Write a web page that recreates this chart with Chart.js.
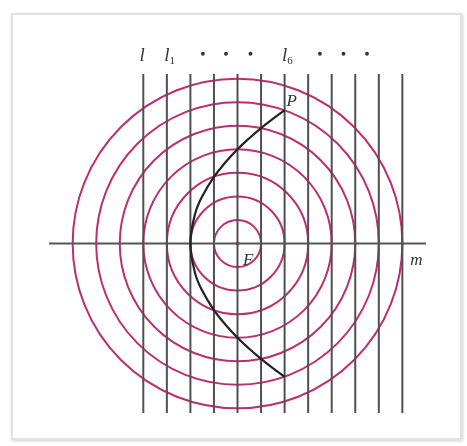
<!DOCTYPE html>
<html>
<head>
<meta charset="utf-8">
<script src="https://cdn.jsdelivr.net/npm/chart.js@4.4.1/dist/chart.umd.min.js"></script>
<style>
  body { margin: 0; background: #fff; }
  #wrap { position: relative; width: 467px; height: 446px; }
  #box {
    position: absolute; left: 11px; top: 13px; width: 447px; height: 423px;
    border: 2px solid #e2e2e2; box-shadow: 1px 1px 3px #cfcfcf;
  }
  canvas { position: absolute; left: 0; top: 0; }
</style>
</head>
<body>
<div id="wrap">
  <div id="box"></div>
  <canvas id="myChart" width="467" height="446"></canvas>
</div>
<script>
// everything in units of one line spacing, focus F at (0, 0)
const lineX = [-4, -3, -2, -1, 0, 1, 2, 3, 4, 5, 6, 7];
const lineTop = 7.2;
const lineBottom = -7.2;
const axisX = [-8, 8];
const circleRadii = [1, 2, 3, 4, 5, 6, 7];

const curveX = [2, 1.5, 1, 0.5, 0, -0.5, -1, -1.5, -1.8, -2, -1.8, -1.5, -1, -0.5, 0, 0.5, 1, 1.5, 2];
const curveY = [5.66, 5.29, 4.9, 4.47, 4.0, 3.46, 2.83, 2.0, 1.26, 0, -1.26, -2.0, -2.83, -3.46, -4.0, -4.47, -4.9, -5.29, -5.66];

// labels along the top
const topLabels = ["l", "l", "·", "·", "·", "l", "·", "·", "·"];
const topSubs = ["", "1", "", "", "", "6", "", "", ""];
const topLabelX = [-4.05, -3.0, -1.47, -0.49, 0.55, 2.0, 3.5, 4.5, 5.5];
const topLabelY = 8.1;

const pointLabels = ["F", "P", "m"];
const pointLabelX = [0.45, 2.3, 7.6];
const pointLabelY = [-0.65, 6.1, -0.65];

let chartInstance = null;

const circlesPlugin = {
    id: "circles",
    beforeDatasetsDraw(chart) {
        const ctx = chart.ctx;
        const xs = chart.scales.x, ys = chart.scales.y;
        const cx = xs.getPixelForValue(0), cy = ys.getPixelForValue(0);
        ctx.save();
        ctx.strokeStyle = "#bd2f6c";
        ctx.lineWidth = 2;
        circleRadii.forEach(r => {
            const pr = xs.getPixelForValue(r) - cx;
            ctx.beginPath();
            ctx.arc(cx, cy, pr, 0, Math.PI * 2);
            ctx.stroke();
        });
        // focus dot
        ctx.fillStyle = "#bd2f6c";
        ctx.beginPath();
        ctx.arc(cx, cy, 2, 0, Math.PI * 2);
        ctx.fill();
        ctx.restore();
    }
};

const labelsPlugin = {
    id: "labels",
    afterDatasetsDraw(chart) {
        const ctx = chart.ctx;
        const xs = chart.scales.x, ys = chart.scales.y;
        ctx.save();
        ctx.fillStyle = "#333";
        ctx.textBaseline = "alphabetic";
        topLabels.forEach((t, i) => {
            const px = xs.getPixelForValue(topLabelX[i]);
            const py = ys.getPixelForValue(topLabelY);
            if (t === "·") {
                ctx.beginPath();
                ctx.arc(px, py + 1, 1.9, 0, Math.PI * 2);
                ctx.fill();
                return;
            }
            ctx.font = "italic 19px 'Liberation Serif', 'DejaVu Serif', serif";
            ctx.textAlign = "center";
            ctx.fillText(t, px, py + 8);
            if (topSubs[i]) {
                const w = ctx.measureText(t).width;
                ctx.font = "11px 'Liberation Serif', 'DejaVu Serif', serif";
                ctx.textAlign = "left";
                ctx.fillText(topSubs[i], px + w / 2, py + 11);
            }
        });
        ctx.font = "italic 17px 'Liberation Serif', 'DejaVu Serif', serif";
        ctx.textAlign = "center";
        pointLabels.forEach((t, i) => {
            ctx.fillText(t, xs.getPixelForValue(pointLabelX[i]), ys.getPixelForValue(pointLabelY[i]) + 6);
        });
        ctx.restore();
    }
};

function renderChart() {
    const ctx = document.getElementById("myChart").getContext("2d");
    if (chartInstance !== null) {
        chartInstance.destroy();
    }

    const datasets = [];
    lineX.forEach(x => {
        datasets.push({
            data: [{ x: x, y: lineTop }, { x: x, y: lineBottom }],
            borderColor: "#505050",
            borderWidth: 2,
            showLine: true,
            pointRadius: 0,
            order: 3
        });
    });
    datasets.push({
        data: axisX.map(x => ({ x: x, y: 0 })),
        borderColor: "#555",
        borderWidth: 2,
        showLine: true,
        pointRadius: 0,
        order: 2
    });
    datasets.push({
        data: curveX.map((x, i) => ({ x: x, y: curveY[i] })),
        borderColor: "#222",
        borderWidth: 2.2,
        showLine: true,
        tension: 0.4,
        pointRadius: 0,
        order: 1
    });

    chartInstance = new Chart(ctx, {
        type: "scatter",
        data: { datasets: datasets },
        options: {
            responsive: false,
            animation: false,
            layout: { padding: 0 },
            plugins: { legend: { display: false }, tooltip: { enabled: false } },
            scales: {
                x: { type: "linear", display: false, min: -10.085, max: 9.745 },
                y: { type: "linear", display: false, min: -8.6, max: 10.34 }
            }
        },
        plugins: [circlesPlugin, labelsPlugin]
    });
}

renderChart();
</script>
</body>
</html>
